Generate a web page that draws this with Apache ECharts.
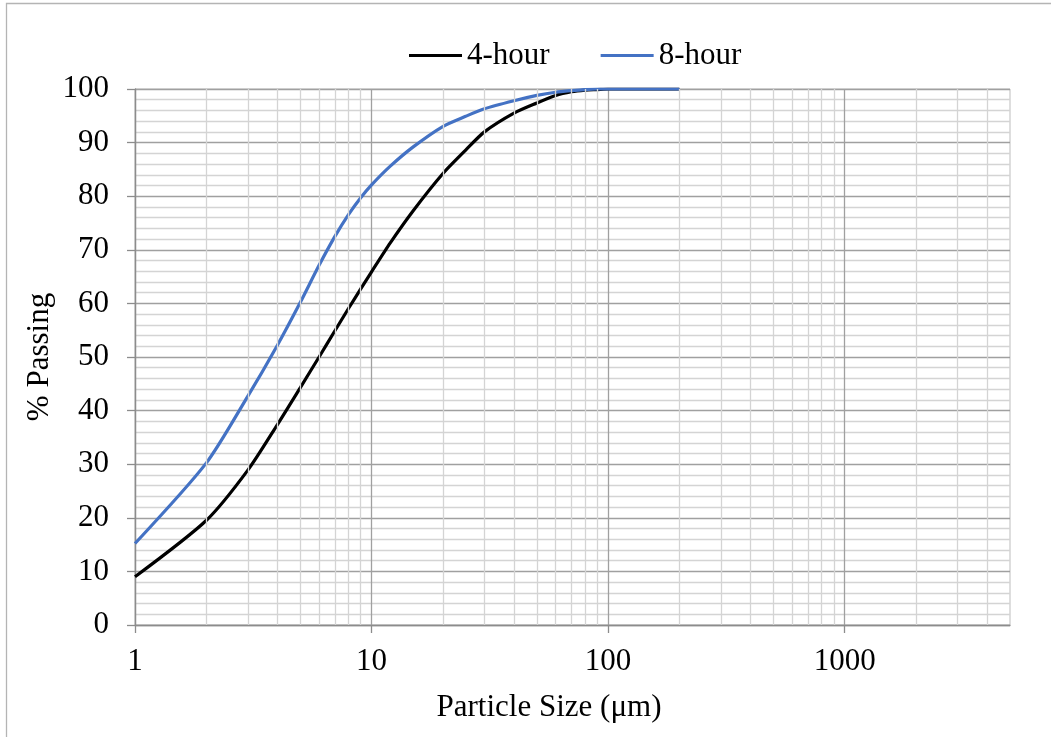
<!DOCTYPE html>
<html><head><meta charset="utf-8">
<script src="https://cdn.jsdelivr.net/npm/echarts@6/dist/echarts.min.js"></script>
<style>html,body{margin:0;padding:0;background:#fff}#c{width:1051px;height:737px}</style>
</head><body><div id="c"></div>
<script>
// Data
const sizes = [1, 2, 3, 4, 5, 6, 7, 8, 9, 10, 12, 15, 20, 25, 30, 40, 50, 60, 70, 80, 90, 100, 200];
const hour4 = [9.0, 19.5, 28.9, 37.4, 44.3, 50.0, 54.9, 59.1, 62.7, 65.9, 71.3, 77.3, 84.2, 88.6, 92.0, 95.5, 97.4, 98.8, 99.5, 99.8, 99.9, 100, 100];
const hour8 = [15.2, 30.2, 42.7, 52.2, 60.2, 67.1, 72.5, 76.6, 79.7, 82.1, 85.6, 89.2, 93.0, 94.9, 96.3, 97.8, 98.8, 99.4, 99.7, 99.9, 100, 100, 100];
const seriesNames = ['4-hour', '8-hour'];
const xTickLabels = [1, 10, 100, 1000];
const xMin = 1, xMax = 5000;
const yMin = 0, yMax = 100, yStep = 10;

// minor log grid positions (2..9 of each decade)
const minorX = [];
for (let d = 1; d <= 1000; d *= 10) {
  for (let k = 2; k <= 9; k++) { const v = k * d; if (v < xMax) minorX.push(v); }
}

const font = 'Liberation Serif';
const fs = 31;
const chart = echarts.init(document.getElementById('c'));
chart.setOption({
  animation: false,
  backgroundColor: '#fff',
  textStyle: { fontFamily: font },
  graphic: [
    { type: 'rect', shape: { x: 6.5, y: 3.5, width: 1200, height: 900 }, style: { fill: 'none', stroke: '#b4b4b4', lineWidth: 1.3 }, silent: true },
    { type: 'text', x: 549, y: 708, style: { text: 'Particle Size (μm)', font: fs + 'px "Liberation Serif"', fill: '#000', align: 'center', verticalAlign: 'middle' } },
    { type: 'text', x: 40, y: 357, rotation: Math.PI / 2, style: { text: '% Passing', font: fs + 'px "Liberation Serif"', fill: '#000', align: 'center', verticalAlign: 'middle' } }
  ],
  legend: {
    data: seriesNames,
    left: 404, top: 35,
    icon: 'rect', itemWidth: 53, itemHeight: 3, itemGap: 51,
    textStyle: { fontFamily: font, fontSize: fs, color: '#000' }
  },
  grid: { left: 135, right: 41, top: 89, bottom: 112, show: true, borderColor: '#bdbdbd', borderWidth: 1 },
  xAxis: {
    type: 'log', logBase: 10, min: xMin, max: xMax,
    axisLine: { show: true, onZero: false, lineStyle: { color: '#8c8c8c', width: 1.3 } },
    axisTick: { show: true, length: 8, lineStyle: { color: '#8c8c8c', width: 1.3 }, customValues: xTickLabels },
    axisLabel: { customValues: xTickLabels, formatter: v => String(v), fontFamily: font, fontSize: fs, color: '#000', margin: 21 },
    splitLine: { show: true, lineStyle: { color: '#a0a0a0', width: 1.3 } },
    minorTick: { show: false }
  },
  yAxis: {
    type: 'value', min: yMin, max: yMax, interval: yStep,
    axisLine: { show: true, lineStyle: { color: '#8c8c8c', width: 1.3 } },
    axisTick: { show: true, length: 8, lineStyle: { color: '#8c8c8c', width: 1.3 } },
    axisLabel: { fontFamily: font, fontSize: fs, color: '#000', margin: 26 },
    splitLine: { show: true, lineStyle: { color: '#a0a0a0', width: 1.3 } },
    minorTick: { show: false, splitNumber: 5 },
    minorSplitLine: { show: true, lineStyle: { color: '#d4d4d4', width: 1.3 } }
  },
  series: [
    {
      type: 'line', name: '__grid', silent: true, z: 1, data: [],
      markLine: {
        silent: true, symbol: 'none', label: { show: false },
        lineStyle: { color: '#d4d4d4', width: 1.3, type: 'solid' },
        data: minorX.map(v => ({ xAxis: v }))
      }
    },
    {
      name: seriesNames[0], type: 'line', showSymbol: false, symbol: 'none', z: 3, smooth: 0.25,
      data: sizes.map((s, i) => [s, hour4[i]]),
      lineStyle: { color: '#000000', width: 3.2 }, itemStyle: { color: '#000000' }
    },
    {
      name: seriesNames[1], type: 'line', showSymbol: false, symbol: 'none', z: 4, smooth: 0.25,
      data: sizes.map((s, i) => [s, hour8[i]]),
      lineStyle: { color: '#4472C4', width: 3.2 }, itemStyle: { color: '#4472C4' }
    }
  ]
});
</script></body></html>
